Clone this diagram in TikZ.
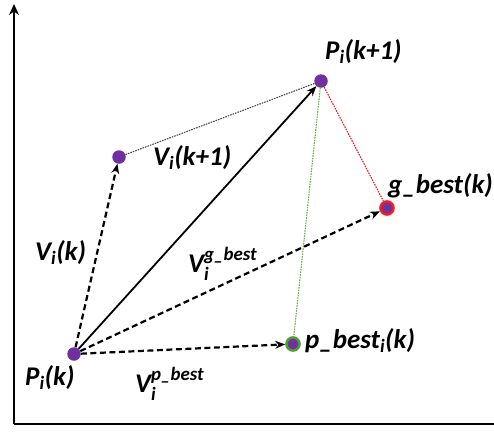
\documentclass[tikz,border=0pt]{standalone}
\usepackage{fontspec}
\usepackage{amsmath}
\setmainfont{Carlito}
\usetikzlibrary{arrows.meta}
\definecolor{dotpurple}{HTML}{7030A0}
\definecolor{ringred}{HTML}{F01E1E}
\definecolor{ringgreen}{HTML}{4E9A35}
\definecolor{linegreen}{HTML}{6FAE4A}
\begin{document}
\begin{tikzpicture}[x=1pt,y=-1pt,
  pdot/.style={circle,fill=dotpurple,inner sep=0pt,minimum size=13.5pt},
  gdot/.style={circle,fill=dotpurple,draw=ringred,line width=2.6pt,inner sep=0pt,minimum size=13pt},
  bdot/.style={circle,fill=dotpurple,draw=ringgreen,line width=2.6pt,inner sep=0pt,minimum size=13pt},
  lab/.style={anchor=base west,inner sep=0pt,font=\fontsize{27}{32}\selectfont\bfseries\itshape},
  dasharrow/.style={line width=2.2pt,dash pattern=on 6pt off 3.5pt,-{Stealth[length=10pt,width=8pt]}},
  solidarrow/.style={line width=1.8pt,-{Stealth[length=10pt,width=8pt]}},
  thindot/.style={line width=1.1pt,dash pattern=on 1.6pt off 1pt},
  axis/.style={line width=2.8pt}]
\useasboundingbox (0,0) rectangle (494,432);
% axes
\coordinate (origin) at (14,424);
\coordinate (ytop) at (14,4);
\coordinate (xend) at (494,424);
\draw[axis,-{Stealth[length=11pt,width=10pt]}] (origin) -- (ytop);
\draw[axis] (origin) -- (xend);
% points
\node[pdot] (pk) at (74,354) {};
\node[pdot] (vk) at (119,157) {};
\node[pdot] (pk1) at (321,81) {};
\node[gdot] (gb) at (387,208) {};
\node[bdot] (pb) at (293,344) {};
% thin lines
\draw[thindot,black!70] (vk) -- (pk1);
\draw[thindot,ringred] (pk1) -- (gb);
\draw[thindot,linegreen] (pk1) -- (pb);
% arrows
\draw[dasharrow] (pk) -- (vk);
\draw[solidarrow] (pk) -- (pk1);
\draw[dasharrow] (pk) -- (gb);
\draw[dasharrow] (pk) -- (pb);
% labels
\node[lab] (lpk1) at (325,59) {P\textsubscript{i}(k+1)};
\node[lab] (lvk1) at (153,165) {V\textsubscript{i}(k+1)};
\node[lab] (lgb) at (388,193) {g\_best(k)};
\node[lab] (lvk) at (35,260) {V\textsubscript{i}(k)};
\node[lab] (lpk) at (25,385) {P\textsubscript{i}(k)};
\node[lab] (lpb) at (305,348) {p\_best\textsubscript{i}(k)};
\node[lab] (lvg) at (188,272) {V$^{\text{g\_best}}_{\text{i}}$};
\node[lab] (lvp) at (135,392) {V$^{\text{p\_best}}_{\text{i}}$};
\end{tikzpicture}
\end{document}
